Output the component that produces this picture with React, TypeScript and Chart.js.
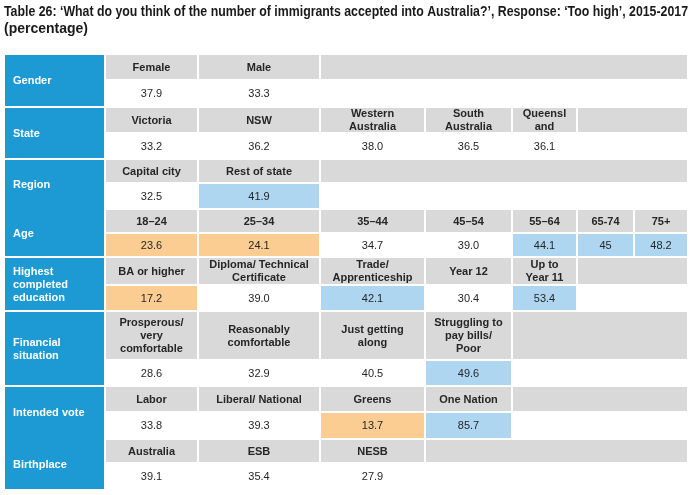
import React, { useEffect, useRef } from "react";
import { Chart, registerables } from "chart.js";

Chart.register(...registerables);

// ---------- DATA ----------
const titleLines = [
  "Table 26: \u2018What do you think of the number of immigrants accepted into Australia?\u2019, Response: \u2018Too high\u2019, 2015-2017",
  "(percentage)",
];

const groupLabels = [
  "Gender",
  "State",
  "Region",
  "Age",
  "Highest\ncompleted\neducation",
  "Financial\nsituation",
  "Intended vote",
  "Birthplace",
];

const genderCategories = ["Female", "Male"];
const genderValues = ["37.9", "33.3"];
const genderFlags = ["", ""];

const stateCategories = ["Victoria", "NSW", "Western\nAustralia", "South\nAustralia", "Queensl\nand"];
const stateValues = ["33.2", "36.2", "38.0", "36.5", "36.1"];
const stateFlags = ["", "", "", "", ""];

const regionCategories = ["Capital city", "Rest of state"];
const regionValues = ["32.5", "41.9"];
const regionFlags = ["", "high"];

const ageCategories = ["18\u201324", "25\u201334", "35\u201344", "45\u201354", "55\u201364", "65-74", "75+"];
const ageValues = ["23.6", "24.1", "34.7", "39.0", "44.1", "45", "48.2"];
const ageFlags = ["low", "low", "", "", "high", "high", "high"];

const educationCategories = ["BA or higher", "Diploma/ Technical\nCertificate", "Trade/\nApprenticeship", "Year 12", "Up to\nYear 11"];
const educationValues = ["17.2", "39.0", "42.1", "30.4", "53.4"];
const educationFlags = ["low", "", "high", "", "high"];

const financialCategories = ["Prosperous/\nvery\ncomfortable", "Reasonably\ncomfortable", "Just getting\nalong", "Struggling to\npay bills/\nPoor"];
const financialValues = ["28.6", "32.9", "40.5", "49.6"];
const financialFlags = ["", "", "", "high"];

const voteCategories = ["Labor", "Liberal/ National", "Greens", "One Nation"];
const voteValues = ["33.8", "39.3", "13.7", "85.7"];
const voteFlags = ["", "", "low", "high"];

const birthCategories = ["Australia", "ESB", "NESB"];
const birthValues = ["39.1", "35.4", "27.9"];
const birthFlags = ["", "", ""];

// ---------- LAYOUT / STYLE ----------
const colUnits = [101, 93, 122, 105, 87, 65, 57, 54];
const headerUnits = [26, 26, 24, 24, 28, 49, 26, 24];
const valueUnits = [27, 26, 26, 24, 26, 26, 27, 27];
const mergeBlueWithPrev = [false, false, false, true, false, false, false, true];

const BLUE = "#1D9AD3";
const GRAY = "#D9D9D9";
const ORANGE = "#FBCD92";
const LIGHTBLUE = "#AED6F1";
const TEXT = "#262626";
const FONT = "'Liberation Sans', Arial, sans-serif";

const groups = [
  { cats: genderCategories, vals: genderValues, flags: genderFlags },
  { cats: stateCategories, vals: stateValues, flags: stateFlags },
  { cats: regionCategories, vals: regionValues, flags: regionFlags },
  { cats: ageCategories, vals: ageValues, flags: ageFlags },
  { cats: educationCategories, vals: educationValues, flags: educationFlags },
  { cats: financialCategories, vals: financialValues, flags: financialFlags },
  { cats: voteCategories, vals: voteValues, flags: voteFlags },
  { cats: birthCategories, vals: birthValues, flags: birthFlags },
];

const colEdges: number[] = [0];
colUnits.forEach((u) => colEdges.push(colEdges[colEdges.length - 1] + u));
const totalRows = headerUnits.reduce((a, b) => a + b, 0) + valueUnits.reduce((a, b) => a + b, 0);

const tablePlugin = {
  id: "tableCells",
  beforeDatasetsDraw(chart: any) {
    const { ctx } = chart;
    const xs = chart.scales.x;
    const ys = chart.scales.y;
    const px = (v: number) => xs.getPixelForValue(v);
    const py = (v: number) => ys.getPixelForValue(v);

    const rect = (x0: number, y0: number, x1: number, y1: number, color: string) => {
      const a = px(x0), b = px(x1), c = py(y0), d = py(y1);
      ctx.fillStyle = color;
      ctx.fillRect(Math.round(a) + 1, Math.round(c) + 1, Math.round(b) - Math.round(a) - 2, Math.round(d) - Math.round(c) - 2);
    };
    const text = (str: string, cx: number, cy: number, font: string, color: string, align: CanvasTextAlign, lh: number) => {
      const lines = str.split("\n");
      ctx.font = font;
      ctx.fillStyle = color;
      ctx.textAlign = align;
      ctx.textBaseline = "middle";
      lines.forEach((ln, i) => {
        ctx.fillText(ln, cx, cy + (i - (lines.length - 1) / 2) * lh);
      });
    };

    ctx.save();
    const nCols = colUnits.length - 1;
    let rowStart = 0;
    const groupSpans: [number, number][] = [];
    groups.forEach((g, gi) => {
      const hTop = rowStart;
      const hBot = hTop + headerUnits[gi];
      const vBot = hBot + valueUnits[gi];
      groupSpans.push([hTop, vBot]);
      const n = g.cats.length;
      for (let i = 0; i < n; i++) {
        const c0 = colEdges[i + 1];
        const c1 = colEdges[i + 2];
        rect(c0, hTop, c1, hBot, GRAY);
        const f = g.flags[i];
        if (f) rect(c0, hBot, c1, vBot, f === "low" ? ORANGE : LIGHTBLUE);
        const cx = (px(c0) + px(c1)) / 2;
        text(g.cats[i], cx, (py(hTop) + py(hBot)) / 2 + 0.5, `bold 11px ${FONT}`, TEXT, "center", 13);
        text(g.vals[i], cx, (py(hBot) + py(vBot)) / 2 + 0.5, `11px ${FONT}`, TEXT, "center", 13);
      }
      if (n < nCols) rect(colEdges[n + 1], hTop, colEdges[colEdges.length - 1], hBot, GRAY);
      rowStart = vBot;
    });

    // blue label column
    let bi = 0;
    while (bi < groups.length) {
      let bj = bi;
      while (bj + 1 < groups.length && mergeBlueWithPrev[bj + 1]) bj++;
      rect(colEdges[0], groupSpans[bi][0], colEdges[1], groupSpans[bj][1], BLUE);
      bi = bj + 1;
    }
    groups.forEach((_, gi) => {
      const [t, b] = groupSpans[gi];
      text(groupLabels[gi], px(colEdges[0]) + 9, (py(t) + py(b)) / 2 + 0.5, `bold 11px ${FONT}`, "#FFFFFF", "left", 13);
    });
    ctx.restore();
  },
};

export default function App() {
  const ref = useRef<HTMLCanvasElement | null>(null);
  useEffect(() => {
    document.body.style.margin = "0";
    const canvas = ref.current;
    if (!canvas) return;
    const chart = new Chart(canvas, {
      type: "scatter",
      data: { datasets: [] },
      options: {
        animation: false,
        responsive: false,
        devicePixelRatio: 1,
        events: [],
        layout: { padding: { left: 4, right: 6, top: 0, bottom: 5 } },
        scales: {
          x: { type: "linear", min: 0, max: colEdges[colEdges.length - 1], display: false },
          y: { type: "linear", min: 0, max: totalRows, reverse: true, display: false },
        },
        plugins: {
          legend: { display: false },
          tooltip: { enabled: false },
          title: {
            display: true,
            text: titleLines,
            align: "start",
            color: "#1a1a1a",
            font: { family: "'Liberation Sans Narrow', 'Liberation Sans', sans-serif", size: 14, weight: "bold", lineHeight: 1.2 },
            padding: { top: 4, bottom: 16.4 },
          },
        },
      },
      plugins: [tablePlugin],
    } as any);
    return () => chart.destroy();
  }, []);
  return (
    <div style={{ width: 694, height: 495 }}>
      <canvas ref={ref} width={694} height={495} style={{ display: "block" }} />
    </div>
  );
}
